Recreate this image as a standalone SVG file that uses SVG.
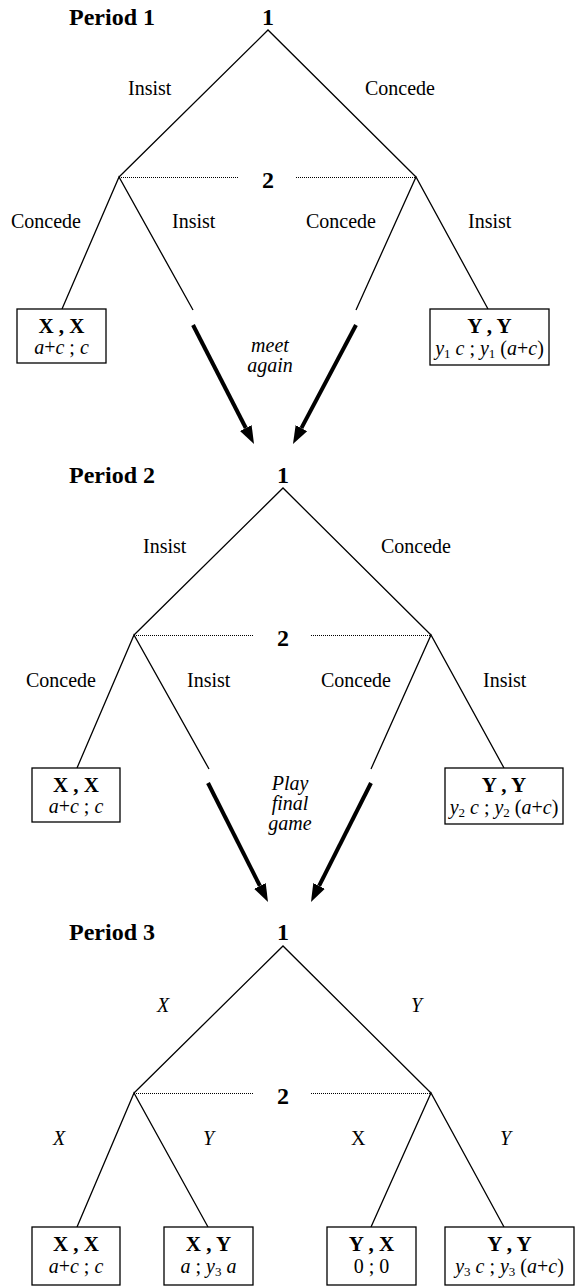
<svg xmlns="http://www.w3.org/2000/svg" width="576" height="1288" viewBox="0 0 576 1288">
<style>
text{font-family:"Liberation Serif","Times New Roman",serif;fill:#000}
.title{font-size:24px;font-weight:bold}
.pl{font-size:24px;font-weight:bold;text-anchor:middle}
.lab{font-size:20px}
.it{font-size:20px;font-style:italic}
.bx{fill:#fff;stroke:#000;stroke-width:1.3}
.bh{font-size:21px;font-weight:bold;text-anchor:middle}
.bp{font-size:20px;text-anchor:middle}
.bp .v{font-style:italic}
.sub{font-size:13px;font-style:normal}
.note{font-size:20px;font-style:italic;text-anchor:middle}
.edge{stroke:#000;stroke-width:1.3;fill:none}
.info{stroke:#000;stroke-width:1;stroke-dasharray:1 1;fill:none}
.arr{stroke:#000;stroke-width:4;fill:none;marker-end:url(#ah)}
</style>
<defs>
<marker id="ah" markerUnits="userSpaceOnUse" viewBox="0 -7 18 14" markerWidth="18" markerHeight="14" refX="0" refY="0" orient="auto">
<path d="M0,-6.5 L18,0 L0,6.5 z" fill="#000"/>
</marker>
</defs>

<g id="connectors">
<!-- Period 1 -->
<path class="edge" d="M119,177 L268,30 L416,177"/>
<path class="info" d="M119,177.5 H239 M296,177.5 H416"/>
<path class="edge" d="M62,309 L119,177 L193,310"/>
<path class="edge" d="M356,310 L416,177 L488,309"/>
<path class="arr" d="M193,325 L245.8,428"/>
<path class="arr" d="M356,325 L301.4,428.1"/>
<!-- Period 2 -->
<path class="edge" d="M134,635 L283,488 L431,635"/>
<path class="info" d="M134,635.5 H253 M311,635.5 H431"/>
<path class="edge" d="M77,768 L134,635 L209,769"/>
<path class="edge" d="M371,769 L431,635 L504,768"/>
<path class="arr" d="M208,783 L259.9,885.9"/>
<path class="arr" d="M371,783 L319.1,885.9"/>
<!-- Period 3 -->
<path class="edge" d="M134,1093 L283,946 L431,1093"/>
<path class="info" d="M134,1093.5 H253 M311,1093.5 H431"/>
<path class="edge" d="M77,1227 L134,1093 L208,1227"/>
<path class="edge" d="M371,1227 L431,1093 L504,1227"/>
</g>

<g id="period1">
<text class="title" x="69" y="25">Period 1</text>
<g id="p1-n1"><text class="pl" x="268" y="25">1</text></g>
<text class="lab" x="128" y="95">Insist</text>
<text class="lab" x="365" y="95">Concede</text>
<g id="p1-n2"><text class="pl" x="268" y="188">2</text></g>
<text class="lab" x="11" y="228">Concede</text>
<text class="lab" x="172" y="228">Insist</text>
<text class="lab" x="306" y="228">Concede</text>
<text class="lab" x="468" y="228">Insist</text>
<g id="p1-xx">
<rect class="bx" x="17" y="309" width="89" height="54"/>
<text class="bh" x="61.5" y="333">X , X</text>
<text class="bp" x="61.5" y="354"><tspan class="v">a</tspan>+<tspan class="v">c</tspan> ; <tspan class="v">c</tspan></text>
</g>
<g id="p1-yy">
<rect class="bx" x="430" y="309" width="119" height="56"/>
<text class="bh" x="489.5" y="333">Y , Y</text>
<text class="bp" x="489.5" y="355"><tspan class="v">y</tspan><tspan class="sub" dy="3">1</tspan><tspan dy="-3"> </tspan><tspan class="v">c</tspan> ; <tspan class="v">y</tspan><tspan class="sub" dy="3">1</tspan><tspan dy="-3"> (</tspan><tspan class="v">a</tspan>+<tspan class="v">c</tspan>)</text>
</g>
<g id="p1-note"><text class="note" x="270" y="352">meet</text><text class="note" x="270" y="372">again</text></g>
</g>

<g id="period2">
<text class="title" x="69" y="483">Period 2</text>
<g id="p2-n1"><text class="pl" x="283" y="483">1</text></g>
<text class="lab" x="143" y="553">Insist</text>
<text class="lab" x="381" y="553">Concede</text>
<g id="p2-n2"><text class="pl" x="283" y="646">2</text></g>
<text class="lab" x="26" y="687">Concede</text>
<text class="lab" x="187" y="687">Insist</text>
<text class="lab" x="321" y="687">Concede</text>
<text class="lab" x="483" y="687">Insist</text>
<g id="p2-xx">
<rect class="bx" x="32" y="768" width="88" height="54"/>
<text class="bh" x="76" y="792">X , X</text>
<text class="bp" x="76" y="813"><tspan class="v">a</tspan>+<tspan class="v">c</tspan> ; <tspan class="v">c</tspan></text>
</g>
<g id="p2-yy">
<rect class="bx" x="445" y="768" width="118" height="56"/>
<text class="bh" x="504" y="792">Y , Y</text>
<text class="bp" x="504" y="814"><tspan class="v">y</tspan><tspan class="sub" dy="3">2</tspan><tspan dy="-3"> </tspan><tspan class="v">c</tspan> ; <tspan class="v">y</tspan><tspan class="sub" dy="3">2</tspan><tspan dy="-3"> (</tspan><tspan class="v">a</tspan>+<tspan class="v">c</tspan>)</text>
</g>
<g id="p2-note"><text class="note" x="290" y="790">Play</text><text class="note" x="290" y="810">final</text><text class="note" x="290" y="830">game</text></g>
</g>

<g id="period3">
<text class="title" x="69" y="940">Period 3</text>
<g id="p3-n1"><text class="pl" x="283" y="940">1</text></g>
<text class="it" x="157" y="1012">X</text>
<text class="it" x="411" y="1012">Y</text>
<g id="p3-n2"><text class="pl" x="283" y="1104">2</text></g>
<text class="it" x="53" y="1145">X</text>
<text class="it" x="203" y="1145">Y</text>
<text class="lab" x="351" y="1145">X</text>
<text class="it" x="500" y="1145">Y</text>
<g id="p3-xx">
<rect class="bx" x="32" y="1227" width="88" height="58"/>
<text class="bh" x="76" y="1251">X , X</text>
<text class="bp" x="76" y="1273"><tspan class="v">a</tspan>+<tspan class="v">c</tspan> ; <tspan class="v">c</tspan></text>
</g>
<g id="p3-xy">
<rect class="bx" x="164" y="1227" width="89" height="58"/>
<text class="bh" x="208.5" y="1251">X , Y</text>
<text class="bp" x="208.5" y="1273"><tspan class="v">a</tspan> ; <tspan class="v">y</tspan><tspan class="sub" dy="3">3</tspan><tspan dy="-3"> </tspan><tspan class="v">a</tspan></text>
</g>
<g id="p3-yx">
<rect class="bx" x="327" y="1227" width="89" height="58"/>
<text class="bh" x="371.5" y="1251">Y , X</text>
<text class="bp" x="371.5" y="1273">0 ; 0</text>
</g>
<g id="p3-yy">
<rect class="bx" x="445" y="1227" width="129" height="58"/>
<text class="bh" x="509.5" y="1251">Y , Y</text>
<text class="bp" x="509.5" y="1273"><tspan class="v">y</tspan><tspan class="sub" dy="3">3</tspan><tspan dy="-3"> </tspan><tspan class="v">c</tspan> ; <tspan class="v">y</tspan><tspan class="sub" dy="3">3</tspan><tspan dy="-3"> (</tspan><tspan class="v">a</tspan>+<tspan class="v">c</tspan>)</text>
</g>
</g>
</svg>
